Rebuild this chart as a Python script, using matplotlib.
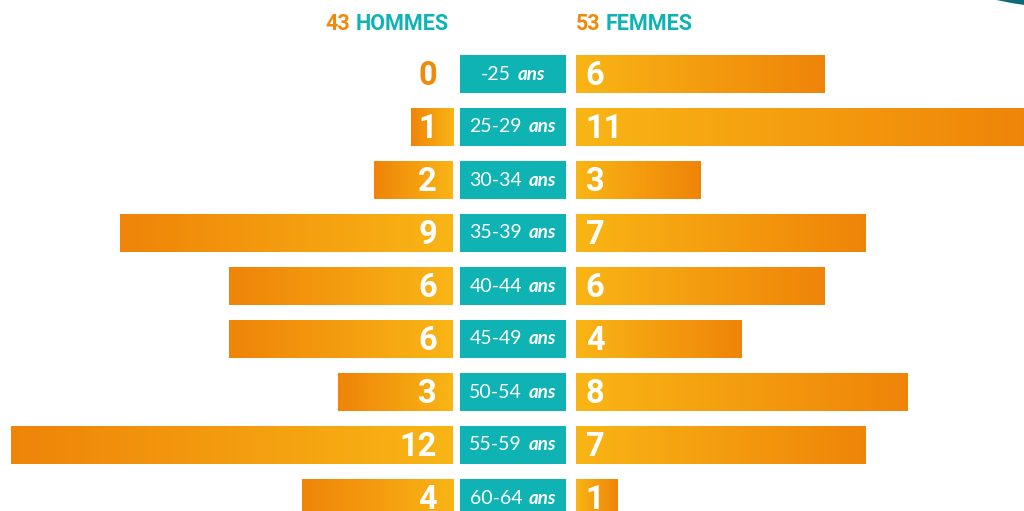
import numpy as np
import matplotlib
matplotlib.use("Agg")
import matplotlib.pyplot as plt
from matplotlib.colors import LinearSegmentedColormap
from matplotlib.offsetbox import TextArea, HPacker, AnnotationBbox
from matplotlib.patches import Circle

ages = ['-25', '25-29', '30-34', '35-39', '40-44', '45-49', '50-54', '55-59', '60-64']
hommes = [0, 1, 2, 9, 6, 6, 3, 12, 4]
femmes = [6, 11, 3, 7, 6, 4, 8, 7, 1]
total_h = sum(hommes)
total_f = sum(femmes)

ORANGE = '#f08a0c'
TEAL = '#0fb3b4'
cmap = LinearSegmentedColormap.from_list('grad', ['#f9b515', '#ef8409'])
grad = np.linspace(0, 1, 256).reshape(1, -1)

W, H = 1024, 511
fig = plt.figure(figsize=(W / 100, H / 100), dpi=100)

y = np.arange(len(ages))
ylim = ((H - 74) / 53, -74 / 53)
bh = 38.5 / 53

axl = fig.add_axes([0, 0, 453 / W, 1])
axc = fig.add_axes([460 / W, 0, 106 / W, 1])
axr = fig.add_axes([576 / W, 0, 448 / W, 1])


def grad_bars(ax, vals, off):
    vals = np.array(vals, dtype=float)
    # small stub so short bars keep room for their label
    bars = ax.barh(y, np.where(vals > 0, vals + off, 0), left=-off, height=bh, color='none')
    for b, v in zip(bars, vals):
        if v == 0:
            continue
        x0, w = b.get_x(), b.get_width()
        y0, h = b.get_y(), b.get_height()
        im = ax.imshow(grad, cmap=cmap, aspect='auto',
                       extent=[x0, x0 + w, y0 + h, y0], interpolation='bicubic')
        im.set_clip_path(b)
    return bars


offl = 6 / 36.3
grad_bars(axl, hommes, offl)
grad_bars(axr, femmes, 0)
axl.set_xlim(453 / 36.3 - offl, -offl)
axr.set_xlim(0, 448 / 41.4)

axc.barh(y, [1] * len(ages), height=bh, color=TEAL)
axc.set_xlim(0, 1)

for ax in (axl, axc, axr):
    ax.set_ylim(*ylim)
    ax.axis('off')

numfont = dict(family='Roboto', weight='bold', fontsize=23.5)
for i, v in enumerate(hommes):
    axl.annotate(str(v), (-offl, i), xytext=(-11.5, -1.5), textcoords='offset points',
                 ha='right', va='center', color=ORANGE if v == 0 else 'white', **numfont)
for i, v in enumerate(femmes):
    axr.annotate(str(v), (0, i), xytext=(7, -1.5), textcoords='offset points',
                 ha='left', va='center', color='white', **numfont)

for i, a in enumerate(ages):
    t1 = TextArea(a, textprops=dict(family='Lato', fontsize=14, color='white'))
    t2 = TextArea('ans', textprops=dict(family='Lato', fontsize=13.5, style='italic',
                                        weight='bold', color='white'))
    pk = HPacker(children=[t1, t2], align='baseline', pad=0, sep=5)
    axc.add_artist(AnnotationBbox(pk, (0.5, i), frameon=False,
                                  box_alignment=(0.5, 0.5), pad=0))

hfont = dict(family='Roboto', weight='bold', fontsize=15.5)
for txt, n, xpos, al in [('HOMMES', total_h, 449, 1), ('FEMMES', total_f, 576, 0)]:
    pk = HPacker(children=[TextArea(str(n), textprops=dict(color=ORANGE, **hfont)),
                           TextArea(txt, textprops=dict(color=TEAL, **hfont))],
                 align='baseline', pad=0, sep=4)
    fig.add_artist(AnnotationBbox(pk, (xpos / W, 1 - 23.5 / H), xycoords='figure fraction',
                                  frameon=False, box_alignment=(al, 0.5), pad=0))

# decorative arc in the top right corner
fig.add_artist(Circle((11.0, 10.11), 5.10, transform=fig.dpi_scale_trans,
                      color='#0b6b78', zorder=10))

fig.savefig('out.png', dpi=100)
